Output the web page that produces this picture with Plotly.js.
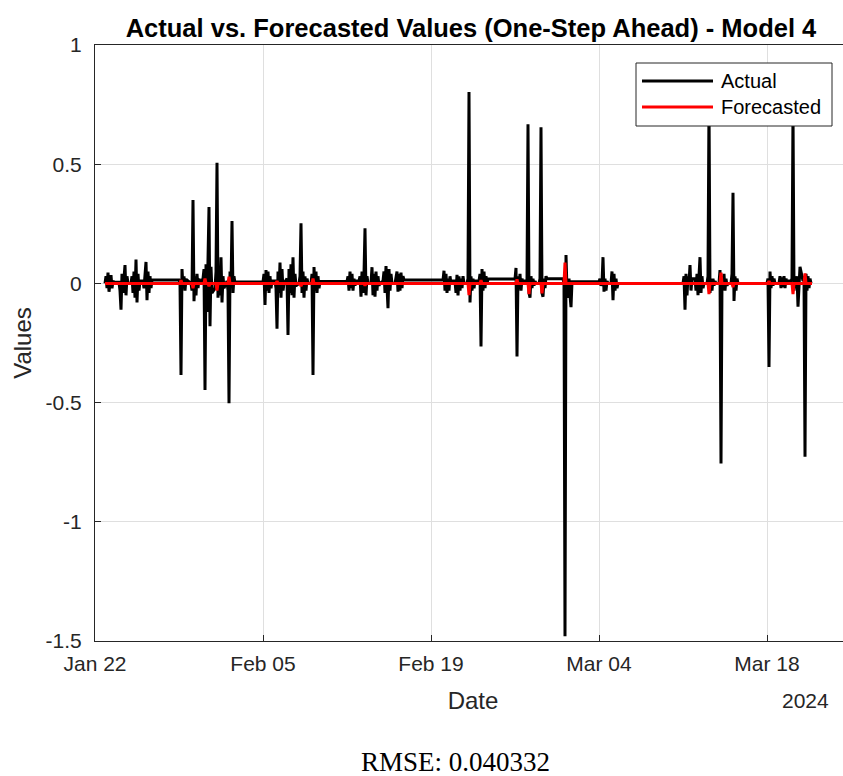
<!DOCTYPE html>
<html>
<head>
<meta charset="utf-8">
<script src="https://cdn.plot.ly/plotly-3.0.1.min.js"></script>
<style>
  html, body { margin: 0; padding: 0; overflow: hidden; background: #fff; }
  #chart { width: 862px; height: 776px; }
</style>
</head>
<body>
<div id="chart"></div>
<script>
// ---------- DATA ----------
// Each trading-day block starts at the given timestamp; samples every 2 hours.
const blockStarts = [
  '2024-01-22 20:00', '2024-01-24 00:00', '2024-01-25 00:00', '2024-01-26 00:00',
  '2024-01-29 00:00', '2024-01-30 00:00', '2024-01-31 00:00', '2024-02-01 00:00',
  '2024-02-02 00:00', '2024-02-05 00:00', '2024-02-06 00:00', '2024-02-07 00:00',
  '2024-02-08 00:00', '2024-02-09 00:00', '2024-02-12 00:00', '2024-02-13 00:00',
  '2024-02-14 00:00', '2024-02-15 00:00', '2024-02-16 00:00', '2024-02-20 00:00',
  '2024-02-21 00:00', '2024-02-22 00:00', '2024-02-23 00:00', '2024-02-26 00:00',
  '2024-02-27 00:00', '2024-02-28 00:00', '2024-03-01 00:00', '2024-03-04 00:00',
  '2024-03-05 00:00', '2024-03-11 00:00', '2024-03-12 00:00', '2024-03-13 00:00',
  '2024-03-14 00:00', '2024-03-15 00:00', '2024-03-18 00:00', '2024-03-19 00:00',
  '2024-03-20 00:00', '2024-03-21 00:00'
];
const sampleStepHours = 2;

const actualBlocks = [
  [0.00, 0.03, -0.02, 0.045, -0.035, 0.02, 0.035, -0.02, 0.01, 0.005],
  [0.005, -0.03, -0.11, 0.04, -0.04, 0.02, 0.077, -0.05, 0.03, 0.0],
  [0.0, 0.03, -0.04, 0.05, -0.06, 0.10, -0.08, 0.04, -0.03, 0.01],
  [0.01, -0.02, 0.04, 0.09, -0.07, 0.05, -0.04, 0.03, -0.02, 0.014],
  [0.014, 0.0, -0.384, 0.06, -0.02, 0.03, -0.03, 0.02, 0.0, 0.01],
  [0.0, -0.03, 0.35, -0.075, 0.03, -0.05, 0.04, -0.02, 0.02, 0.0],
  [0.02, 0.06, -0.447, 0.08, -0.12, 0.09, 0.32, -0.18, 0.07, -0.04],
  [-0.02, 0.05, 0.506, -0.06, 0.04, -0.05, 0.11, -0.08, 0.03, -0.02],
  [0.01, -0.03, -0.503, 0.05, -0.02, 0.262, -0.04, 0.03, 0.0, 0.006],
  [0.006, 0.04, -0.09, 0.056, -0.03, 0.05, -0.04, 0.03, -0.02, 0.01],
  [0.01, -0.02, -0.19, 0.05, -0.04, 0.087, -0.06, 0.06, -0.03, 0.0],
  [0.02, -0.216, 0.06, -0.04, 0.08, -0.05, 0.11, -0.06, 0.04, -0.01],
  [0.0, 0.03, 0.252, -0.04, 0.05, -0.06, 0.03, -0.03, 0.02, 0.0],
  [0.0, 0.04, -0.384, 0.069, -0.03, 0.05, -0.04, 0.03, -0.02, 0.008],
  [0.008, 0.03, -0.03, 0.05, -0.02, 0.04, -0.03, 0.02, -0.01, 0.01],
  [0.01, 0.03, -0.056, 0.05, -0.04, 0.04, 0.231, -0.05, 0.03, 0.0],
  [0.0, 0.068, -0.05, 0.04, -0.056, 0.05, -0.03, 0.03, -0.01, 0.0],
  [0.01, 0.05, -0.04, 0.073, -0.06, -0.104, 0.06, -0.03, 0.04, 0.0],
  [0.0, 0.03, 0.05, -0.035, 0.04, -0.03, 0.045, -0.02, 0.03, 0.014],
  [0.014, 0.053, -0.03, 0.04, -0.04, 0.02, -0.03, 0.03, 0.0, 0.01],
  [0.01, -0.04, 0.036, -0.05, 0.03, -0.03, 0.02, -0.02, 0.03, 0.0],
  [0.0, 0.02, 0.803, -0.08, 0.03, -0.03, 0.02, -0.02, 0.01, 0.01],
  [0.01, 0.04, -0.265, 0.06, -0.03, 0.05, -0.02, 0.03, 0.0, 0.018],
  [0.018, 0.065, -0.307, 0.03, -0.02, 0.04, -0.03, 0.02, 0.0, 0.01],
  [0.01, 0.668, -0.04, -0.06, 0.03, -0.02, 0.02, -0.01, 0.01, 0.0],
  [0.0, 0.02, 0.655, -0.04, -0.056, 0.02, -0.02, 0.03, 0.02, 0.02],
  [0.02, 0.0, -1.48, 0.119, -0.03, -0.06, 0.02, -0.05, -0.10, 0.007],
  [0.007, 0.02, -0.01, 0.0, 0.11, -0.035, 0.02, -0.03, 0.01, 0.0],
  [0.0, 0.05, -0.07, 0.04, -0.03, 0.02, -0.02, 0.0, 0.0, 0.0],
  [0.0, 0.03, -0.11, 0.04, -0.05, 0.03, 0.0, 0.077, -0.03, 0.02],
  [0.02, -0.03, 0.04, -0.049, 0.03, 0.11, -0.04, 0.03, -0.02, 0.0],
  [0.0, 0.03, 0.75, -0.04, 0.02, -0.03, 0.02, -0.01, 0.01, 0.0],
  [0.0, 0.056, -0.755, 0.03, -0.02, 0.04, -0.03, 0.02, -0.01, 0.0],
  [0.0, 0.04, 0.38, -0.074, 0.03, -0.03, 0.02, 0.0, 0.0, 0.0],
  [0.0, 0.02, -0.351, 0.05, -0.02, 0.03, -0.01, 0.02, 0.0, 0.0],
  [0.0, 0.03, -0.02, 0.025, -0.015, 0.03, -0.02, 0.02, 0.0, 0.01],
  [0.01, 0.02, 0.72, -0.03, 0.02, -0.02, 0.03, -0.098, 0.02, 0.07],
  [0.01, 0.03, -0.727, 0.04, -0.03, 0.03, -0.02, 0.02, 0.0, 0.0]
];

const forecastBlocks = [
  [0, 0, 0, 0, 0, 0, 0, 0, 0, 0],
  [0, 0, 0, 0, 0, 0, 0, 0, 0, 0],
  [0, 0, 0, 0, 0, 0, 0, 0, 0, 0],
  [0, 0, 0, 0, 0, 0, 0, 0, 0, 0],
  [0, 0, 0.014, 0, 0, 0, 0, 0, 0, 0],
  [0, 0, -0.02, 0, 0, 0, 0, 0, 0, 0],
  [0, 0, 0.02, 0, 0, 0, -0.012, 0, 0, 0],
  [0, 0, -0.03, 0, 0, 0, 0, 0, 0, 0],
  [0, 0, 0.028, 0, 0, 0, 0, 0, 0, 0],
  [0, 0, 0, 0, 0, 0, 0, 0, 0, 0],
  [0, 0, 0.01, 0, 0, 0, 0, 0, 0, 0],
  [0, 0, 0, 0, 0, 0, 0, 0, 0, 0],
  [0, 0, -0.012, 0, 0, 0, 0, 0, 0, 0],
  [0, 0, 0.02, 0, 0, 0, 0, 0, 0, 0],
  [0, 0, 0, 0, 0, 0, 0, 0, 0, 0],
  [0, 0, 0, 0, 0, 0, -0.01, 0, 0, 0],
  [0, 0, 0, 0, 0, 0, 0, 0, 0, 0],
  [0, 0, 0, 0, 0, 0, 0, 0, 0, 0],
  [0, 0, 0, 0, 0, 0, 0, 0, 0, 0],
  [0, 0, 0, 0, 0, 0, 0, 0, 0, 0],
  [0, 0, 0, 0, 0, 0, 0, 0, 0, 0],
  [0, 0, -0.049, 0, 0, 0, 0, 0, 0, 0],
  [0, 0, 0.013, 0, 0, 0, 0, 0, 0, 0],
  [0, 0, 0.017, 0, 0, 0, 0, 0, 0, 0],
  [0, 0, -0.045, 0, 0, 0, 0, 0, 0, 0],
  [0, 0, 0, -0.042, 0, 0, 0, 0, 0, 0],
  [0, 0, 0.087, 0, 0, 0, 0, 0, 0, 0],
  [0, 0, 0, 0, 0, 0, 0, 0, 0, 0],
  [0, 0, 0, 0, 0, 0, 0, 0, 0, 0],
  [0, 0, 0, 0, 0, 0, 0, 0, 0, 0],
  [0, 0, 0, 0, 0, 0, 0, 0, 0, 0],
  [0, 0, -0.045, 0, 0, 0, 0, 0, 0, 0],
  [0, 0, 0.045, 0, 0, 0, 0, 0, 0, 0],
  [0, 0, -0.015, 0, 0, 0, 0, 0, 0, 0],
  [0, 0, 0.01, 0, 0, 0, 0, 0, 0, 0],
  [0, 0, 0, 0, 0, 0, 0, 0, 0, 0],
  [0, 0, -0.045, 0, 0, 0, 0, 0, 0, 0],
  [0, 0, 0.042, 0, 0, 0, 0, 0, 0, 0]
];

const xTickDates = ['2024-01-22', '2024-02-05', '2024-02-19', '2024-03-04', '2024-03-18'];
const xTickLabels = ['Jan 22', 'Feb 05', 'Feb 19', 'Mar 04', 'Mar 18'];
const yTickValues = [-1.5, -1, -0.5, 0, 0.5, 1];
const yTickLabels = ['-1.5', '-1', '-0.5', '0', '0.5', '1'];
const xRange = ['2024-01-22 00:00', '2024-03-25 00:00'];
const yRange = [-1.5, 1];
const seriesNames = ['Actual', 'Forecasted'];
const chartTitle = 'Actual vs. Forecasted Values (One-Step Ahead) - Model 4';
const yearLabel = '2024';
const rmseText = 'RMSE: 0.040332';

// ---------- BUILD SERIES ----------
function stamp(startStr, k) {
  const [d, t] = startStr.split(' ');
  const [Y, M, D] = d.split('-').map(Number);
  const [h, m] = t.split(':').map(Number);
  const ms = Date.UTC(Y, M - 1, D, h, m) + k * sampleStepHours * 3600000;
  return new Date(ms).toISOString().slice(0, 16).replace('T', ' ');
}
const times = [], actual = [], forecast = [];
blockStarts.forEach((s, b) => {
  actualBlocks[b].forEach((v, k) => {
    times.push(stamp(s, k));
    actual.push(v);
    forecast.push(forecastBlocks[b][k]);
  });
});

// ---------- LAYOUT ----------
const W = 862, H = 776;
const L = 95, R = 851, T = 45, B = 641;
const px = x => (x - L) / (R - L);
const py = y => (B - y) / (B - T);
const axisCol = '#262626';
const gridCol = '#dfdfdf';
const sans = 'Liberation Sans, Arial, Helvetica, sans-serif';

const traces = [
  { x: times, y: actual, type: 'scatter', mode: 'lines', name: seriesNames[0],
    line: { color: '#000000', width: 3 }, showlegend: false },
  { x: times, y: forecast, type: 'scatter', mode: 'lines', name: seriesNames[1],
    line: { color: '#ff0000', width: 3 }, showlegend: false }
];

const layout = {
  width: W, height: H,
  margin: { l: L, r: W - R, t: T, b: H - B, pad: 0 },
  paper_bgcolor: '#ffffff', plot_bgcolor: '#ffffff',
  font: { family: sans, color: axisCol, size: 21 },
  title: { text: '<b>' + chartTitle + '</b>', font: { family: sans, size: 25.5, color: '#000000' },
           x: px(471), xref: 'paper', xanchor: 'center',
           y: 1 - 28 / H, yref: 'container', yanchor: 'middle' },
  xaxis: {
    type: 'date', range: xRange, tickvals: xTickDates, ticktext: xTickLabels,
    showgrid: true, gridcolor: gridCol, gridwidth: 1,
    showline: true, linecolor: axisCol, linewidth: 1, mirror: true,
    ticks: 'inside', ticklen: 6, tickcolor: axisCol, tickwidth: 1,
    tickfont: { family: sans, size: 21, color: axisCol },
    ticklabelstandoff: 4,
    zeroline: false, automargin: false,
    title: { text: 'Date', font: { family: sans, size: 24, color: axisCol }, standoff: 17 }
  },
  yaxis: {
    range: yRange, tickvals: yTickValues, ticktext: yTickLabels,
    showgrid: true, gridcolor: gridCol, gridwidth: 1,
    showline: true, linecolor: axisCol, linewidth: 1, mirror: true,
    ticks: 'inside', ticklen: 6, tickcolor: axisCol, tickwidth: 1,
    tickfont: { family: sans, size: 21, color: axisCol },
    ticklabelstandoff: 8,
    zeroline: false, automargin: false,
    title: { text: 'Values', font: { family: sans, size: 24, color: axisCol }, standoff: 7 }
  },
  shapes: [
    { type: 'rect', xref: 'paper', yref: 'paper', x0: px(636), x1: px(832), y0: py(126), y1: py(63),
      fillcolor: '#ffffff', line: { color: axisCol, width: 1 }, layer: 'above' },
    { type: 'line', xref: 'paper', yref: 'paper', x0: px(642), x1: px(713), y0: py(81), y1: py(81),
      line: { color: '#000000', width: 3 }, layer: 'above' },
    { type: 'line', xref: 'paper', yref: 'paper', x0: px(642), x1: px(713), y0: py(107), y1: py(107),
      line: { color: '#ff0000', width: 3 }, layer: 'above' }
  ],
  annotations: [
    { text: seriesNames[0], xref: 'paper', yref: 'paper', x: px(719), y: py(81),
      xanchor: 'left', yanchor: 'middle', showarrow: false,
      font: { family: sans, size: 20, color: '#000000' } },
    { text: seriesNames[1], xref: 'paper', yref: 'paper', x: px(719), y: py(107),
      xanchor: 'left', yanchor: 'middle', showarrow: false,
      font: { family: sans, size: 20, color: '#000000' } },
    { text: yearLabel, xref: 'paper', yref: 'paper', x: px(831), y: py(700),
      xanchor: 'right', yanchor: 'middle', showarrow: false,
      font: { family: sans, size: 21, color: axisCol } },
    { text: rmseText, xref: 'paper', yref: 'paper', x: px(455), y: py(762),
      xanchor: 'center', yanchor: 'middle', showarrow: false,
      font: { family: 'Liberation Serif, Times New Roman, serif', size: 27, color: '#000000' } }
  ],
  showlegend: false
};

Plotly.newPlot('chart', traces, layout, { staticPlot: true, displayModeBar: false });
</script>
</body>
</html>
